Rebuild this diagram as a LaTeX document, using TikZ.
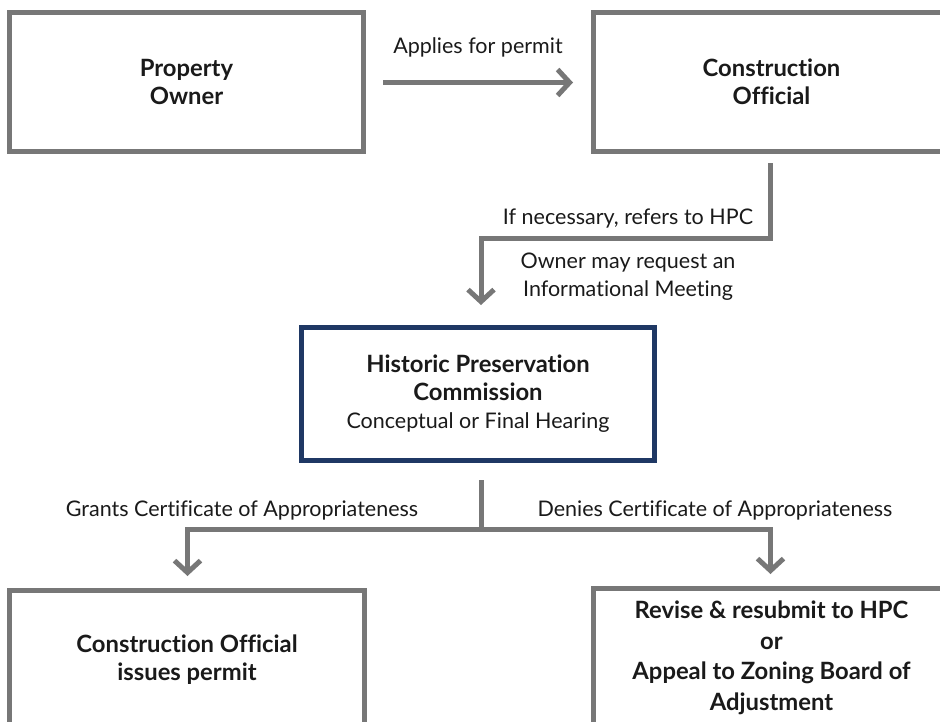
\documentclass[tikz,border=0pt]{standalone}
\usepackage{fontspec}
\setmainfont{Lato}[Ligatures={NoCommon}]
\usetikzlibrary{arrows.meta}
\definecolor{boxgray}{HTML}{777777}
\definecolor{navy}{HTML}{1F3864}
\definecolor{txt}{HTML}{1A1A1A}
\tikzset{
  box/.style={draw=boxgray, line width=5pt, rectangle, fill=white, align=center,
    font=\fontsize{23.8}{28}\selectfont\bfseries, text=txt, inner sep=0pt},
  hpcbox/.style={box, draw=navy},
  conn/.style={draw=boxgray, line width=5pt},
  arr/.style={conn, -{Straight Barb[sharp, length=12pt, width=26pt]}},
  lbl/.style={font=\fontsize{21.5}{28}\selectfont, text=txt, align=center, inner sep=0pt}
}
\begin{document}
\begin{tikzpicture}[x=1pt, y=-1pt]
\useasboundingbox (0,0) rectangle (940,721);
\clip (0,0) rectangle (940,721);
% boxes
\node[box, minimum width=354pt, minimum height=139pt] (po) at (186.5,82) {Property\\Owner};
\node[box, minimum width=356pt, minimum height=139pt] (co) at (771.5,82) {Construction\\Official};
\node[hpcbox, minimum width=353pt, minimum height=133pt] (hpc) at (478,394)
  {Historic Preservation\\Commission\\\fontsize{21.5}{28}\selectfont\mdseries Conceptual or Final Hearing};
\node[box, minimum width=355pt, minimum height=139pt] (bl) at (187,660)
  {Construction Official\\issues permit};
\node[box, minimum width=356pt, minimum height=139pt, font=\fontsize{23.8}{30.5}\selectfont\bfseries] (br) at (771.5,658)
  {Revise \& resubmit to HPC\\or\\Appeal to Zoning Board of\\Adjustment};
% connectors
\draw[arr, shorten <=17pt, shorten >=18pt] (po.east |- 0,82.5) -- (co.west |- 0,82.5);
\node[lbl] (l1) at (478,47) {Applies for permit};

\coordinate (j1) at (481,238.5);
\coordinate (j1a) at (770.5,238.5);
\coordinate (a1) at (481,325);
\draw[arr, shorten >=20pt] (770.5,163) -- (j1a) -- (j1) -- (a1);
\node[lbl] (l2) at (628,219) {If necessary, refers to HPC};
\node[lbl] (l3) at (628,277) {Owner may request an\\Informational Meeting};

\coordinate (s2) at (481,480);
\coordinate (j2) at (481,529.5);
\coordinate (jl) at (187.5,529.5);
\coordinate (jr) at (770.5,529.5);
\draw[conn] (s2) -- (j2);
\draw[arr, shorten >=12pt] (j2) -- (jl) -- (jl |- bl.north);
\draw[arr, shorten >=12pt] (j2) -- (jr) -- (jr |- br.north);
\node[lbl] (l4) at (242,510) {Grants Certificate of Appropriateness};
\node[lbl] (l5) at (715,510) {Denies Certificate of Appropriateness};
\end{tikzpicture}
\end{document}
